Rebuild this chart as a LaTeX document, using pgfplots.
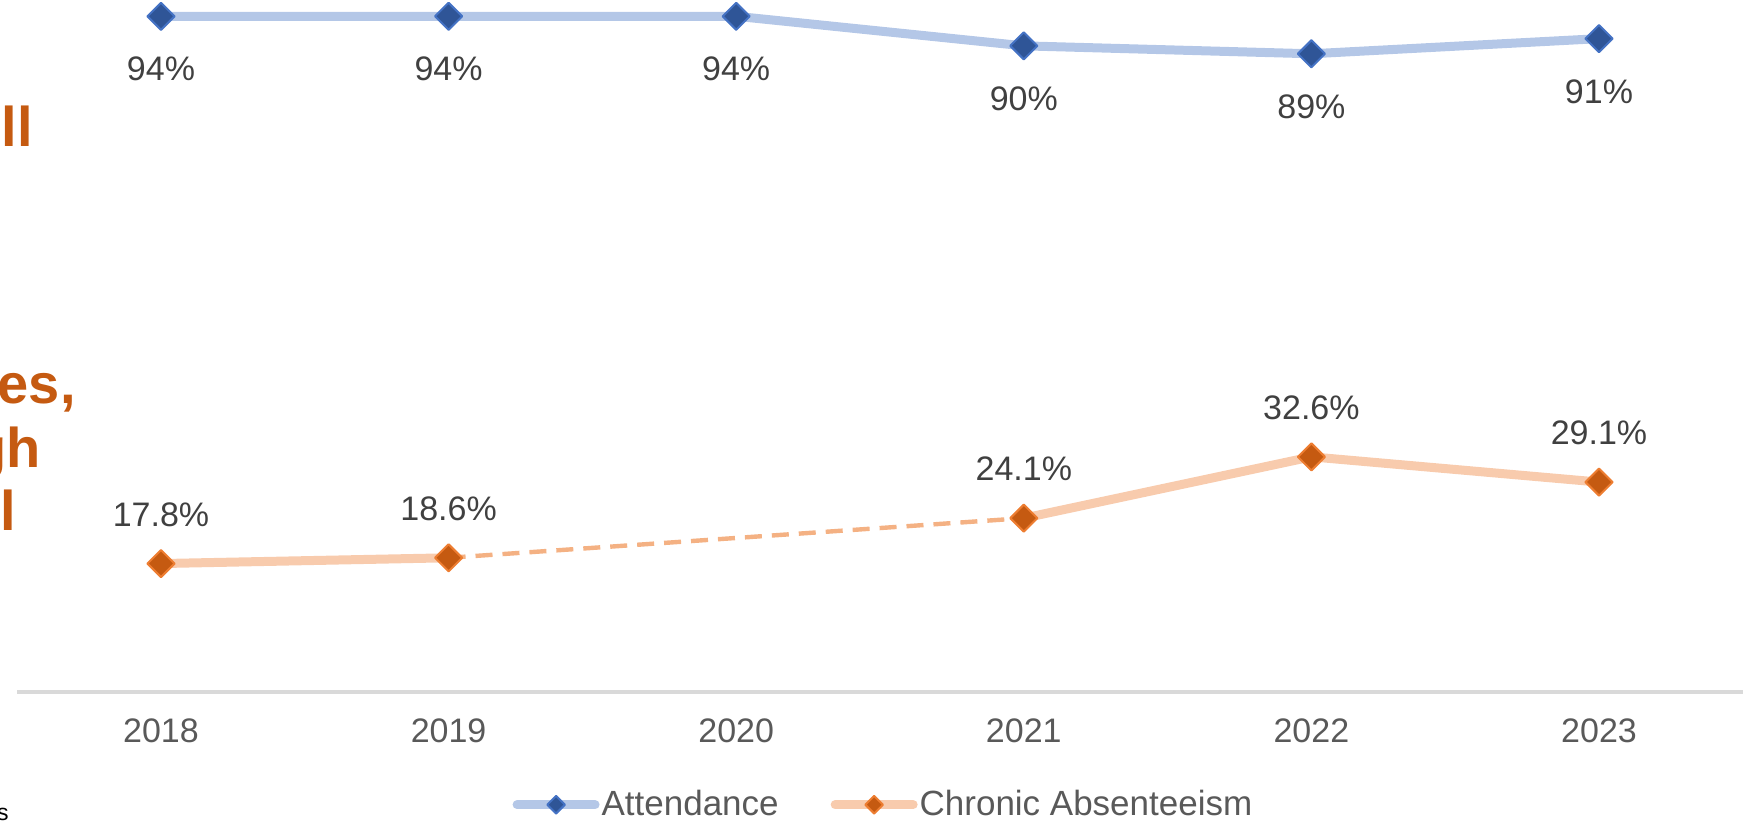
\documentclass[border=0pt]{standalone}
\usepackage{fontspec}
\setmainfont{Liberation Sans}
\usepackage{pgfplots}
\usepackage{pgfplotstable}
\pgfplotsset{compat=1.18}
\definecolor{attline}{HTML}{B4C7E7}
\definecolor{attmark}{HTML}{2F5597}
\definecolor{attedge}{HTML}{4472C4}
\definecolor{chrline}{HTML}{F8CBAD}
\definecolor{chrdash}{HTML}{F4B183}
\definecolor{chrmark}{HTML}{C55A11}
\definecolor{chredge}{HTML}{ED7D31}
\definecolor{lbl}{HTML}{404040}
\definecolor{tickc}{HTML}{595959}
\definecolor{axisgray}{HTML}{D9D9D9}
\definecolor{heading}{HTML}{C55A11}

\pgfplotstableread{
x y lab
2018 93.7 94
2019 93.7 94
2020 93.7 94
2021 89.6 90
2022 88.5 89
2023 90.6 91
}\attendance

\pgfplotstableread{
x y lab
2018 17.8 17.8
2019 18.6 18.6
2020 nan -
2021 24.1 24.1
2022 32.6 32.6
2023 29.1 29.1
}\chronic

\begin{document}
\begin{tikzpicture}
\path[use as bounding box] (0,0) rectangle (871.5pt,410.5pt);
\begin{axis}[
  at={(8.6pt,64.55pt)}, anchor=south west,
  scale only axis, width=862.8pt, height=346.1pt,
  xmin=2017.5, xmax=2023.5, ymin=0, ymax=96,
  axis y line=none,
  axis x line=bottom,
  x axis line style={-, draw=axisgray, line width=1.7pt},
  xtick={2018,2019,2020,2021,2022,2023},
  xticklabels={2018,2019,2020,2021,2022,2023},
  major tick length=0pt,
  xticklabel style={font=\fontsize{17}{20}\selectfont, text=tickc, yshift=-10pt},
  clip=false,
  unbounded coords=jump,
  legend style={at={(0.502,-0.163)}, anchor=center, draw=none, fill=none,
    legend columns=2, font=\fontsize{17.5}{20}\selectfont, text=tickc,
    /tikz/every even column/.append style={column sep=25pt},
    nodes={inner sep=1pt}},
  legend cell align=left,
  legend image code/.code={\draw[mark repeat=2, mark phase=2, /tikz/every mark/.append style={scale=0.65}] plot coordinates {(0pt,0pt) (19.5pt,0pt) (39pt,0pt)};},
]
\addplot[attline, line width=4.5pt, line cap=round, line join=round,
  mark=square*, mark size=4.8pt,
  mark options={rotate=45, fill=attmark, draw=attedge, line width=1pt},
  point meta=explicit symbolic,
  nodes near coords={\pgfplotspointmeta\%},
  every node near coord/.append style={anchor=center, yshift=-26.5pt, font=\fontsize{17}{20}\selectfont, text=lbl}]
  table[x=x, y=y, meta=lab] {\attendance};
\addlegendentry{Attendance}

\addplot[chrdash, line width=2.2pt, dash pattern=on 8.5pt off 5pt, forget plot]
  coordinates {(2019,18.6) (2021,24.1)};

\addplot[chrline, line width=4.5pt, line cap=round, line join=round,
  mark=square*, mark size=4.8pt,
  mark options={rotate=45, fill=chrmark, draw=chredge, line width=1pt},
  point meta=explicit symbolic,
  nodes near coords={\pgfplotspointmeta\%},
  every node near coord/.append style={anchor=center, yshift=24.5pt, font=\fontsize{17}{20}\selectfont, text=lbl}]
  table[x=x, y=y, meta=lab] {\chronic};
\addlegendentry{Chronic Absenteeism}
\end{axis}
\begin{scope}[every node/.style={anchor=base east, inner sep=0pt, font=\bfseries\fontsize{28}{34}\selectfont, text=heading}]
\node at (16.5pt,337.5pt) {ll};
\node at (38pt,209pt) {es,};
\node at (20.5pt,177pt) {gh};
\node at (8pt,145.5pt) {l};
\end{scope}
\node[anchor=base east, inner sep=0pt, font=\fontsize{11.5}{14}\selectfont, text=black] at (4.5pt,0.5pt) {s};
\end{tikzpicture}
\end{document}
